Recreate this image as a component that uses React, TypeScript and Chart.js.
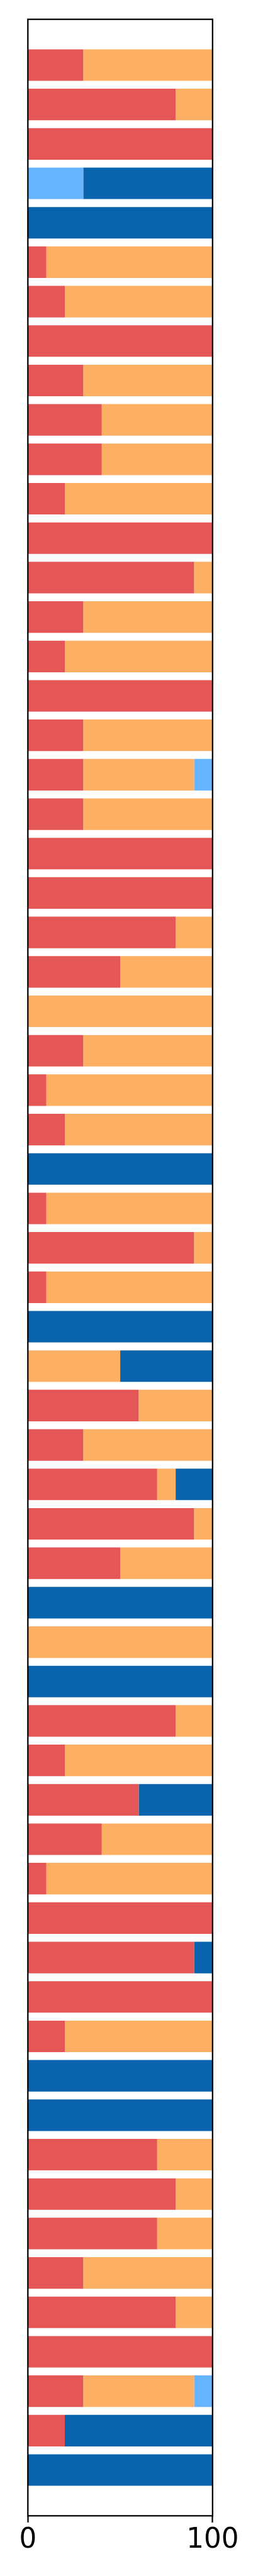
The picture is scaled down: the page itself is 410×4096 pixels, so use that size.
import React, { useEffect, useRef } from 'react';
import { Chart, registerables } from 'chart.js';

Chart.register(...registerables);

// One entry per horizontal bar, top to bottom (percent shares, each row sums to 100)
const red = [
  30, 80, 100, 0, 0, 10, 20, 100, 30, 40, 40, 20, 100, 90, 30, 20, 100, 30, 30, 30,
  100, 100, 80, 50, 0, 30, 10, 20, 0, 10, 90, 10, 0, 0, 60, 30, 70, 90, 50, 0,
  0, 0, 80, 20, 60, 40, 10, 100, 90, 100, 20, 0, 0, 70, 80, 70, 30, 80, 100, 30,
  20, 0,
];
const orange = [
  70, 20, 0, 0, 0, 90, 80, 0, 70, 60, 60, 80, 0, 10, 70, 80, 0, 70, 60, 70,
  0, 0, 20, 50, 100, 70, 90, 80, 0, 90, 10, 90, 0, 50, 40, 70, 10, 10, 50, 0,
  100, 0, 20, 80, 0, 60, 90, 0, 0, 0, 80, 0, 0, 30, 20, 30, 70, 20, 0, 60,
  0, 0,
];
const lightBlue = [
  0, 0, 0, 30, 0, 0, 0, 0, 0, 0, 0, 0, 0, 0, 0, 0, 0, 0, 10, 0,
  0, 0, 0, 0, 0, 0, 0, 0, 0, 0, 0, 0, 0, 0, 0, 0, 0, 0, 0, 0,
  0, 0, 0, 0, 0, 0, 0, 0, 0, 0, 0, 0, 0, 0, 0, 0, 0, 0, 0, 10,
  0, 0,
];
const darkBlue = [
  0, 0, 0, 70, 100, 0, 0, 0, 0, 0, 0, 0, 0, 0, 0, 0, 0, 0, 0, 0,
  0, 0, 0, 0, 0, 0, 0, 0, 100, 0, 0, 0, 100, 50, 0, 0, 20, 0, 0, 100,
  0, 100, 0, 0, 40, 0, 0, 0, 10, 0, 0, 100, 100, 0, 0, 0, 0, 0, 0, 0,
  80, 100,
];
const categories = red.map((_, i) => i); // unlabeled rows, index positions
const xTickValues = [0, 100];

const seriesColors = ['#e45756', '#fdb063', '#66b3ff', '#0a64ad'];

const W = 410;
const H = 4096;
const AREA = { left: 44.3, right: 337.8, top: 30.7, bottom: 4000.3 };
const FRAME_W = 2.25;

const framePlugin = {
  id: 'frame',
  afterDatasetsDraw(chart: any) {
    const { ctx, chartArea: a } = chart;
    ctx.save();
    ctx.strokeStyle = '#000';
    ctx.lineWidth = FRAME_W;
    ctx.lineJoin = 'miter';
    ctx.strokeRect(a.left, a.top, a.right - a.left, a.bottom - a.top);
    ctx.restore();
  },
};

export default function App() {
  const ref = useRef<HTMLCanvasElement | null>(null);

  useEffect(() => {
    if (!ref.current) return;
    const mk = (label: string, data: number[], color: string) => ({
      label,
      data,
      backgroundColor: color,
      borderWidth: 0,
      barPercentage: 0.8,
      categoryPercentage: 1.0,
    });
    const chart = new Chart(ref.current, {
      type: 'bar',
      data: {
        labels: categories,
        datasets: [
          mk('red', red, seriesColors[0]),
          mk('orange', orange, seriesColors[1]),
          mk('lightBlue', lightBlue, seriesColors[2]),
          mk('darkBlue', darkBlue, seriesColors[3]),
        ],
      },
      options: {
        indexAxis: 'y',
        animation: false,
        responsive: true,
        maintainAspectRatio: false,
        devicePixelRatio: 1,
        layout: {
          padding: { left: AREA.left, right: W - AREA.right, top: AREA.top, bottom: 0 },
        },
        plugins: {
          legend: { display: false },
          tooltip: { enabled: false },
        },
        scales: {
          x: {
            type: 'linear',
            stacked: true,
            min: 0,
            max: 100,
            border: { display: false },
            grid: {
              drawOnChartArea: false,
              drawTicks: true,
              tickLength: 10.6,
              tickWidth: FRAME_W,
              tickColor: '#000',
            },
            ticks: {
              color: '#000',
              padding: 3,
              maxRotation: 0,
              font: { family: 'DejaVu Sans', size: 43.6 },
            },
            afterBuildTicks: (s: any) => {
              s.ticks = xTickValues.map((v) => ({ value: v }));
            },
            afterFit: (s: any) => {
              s.height = H - AREA.bottom;
            },
          },
          y: {
            type: 'linear',
            stacked: true,
            display: false,
            reverse: true,
            min: -0.65,
            max: categories.length - 0.35,
            afterBuildTicks: (s: any) => {
              s.ticks = categories.map((v) => ({ value: v }));
            },
          },
        },
      },
      plugins: [framePlugin],
    } as any);
    return () => chart.destroy();
  }, []);

  return (
    <div style={{ position: 'absolute', left: 0, top: 0, width: W, height: H, background: '#fff' }}>
      <canvas ref={ref} />
    </div>
  );
}
